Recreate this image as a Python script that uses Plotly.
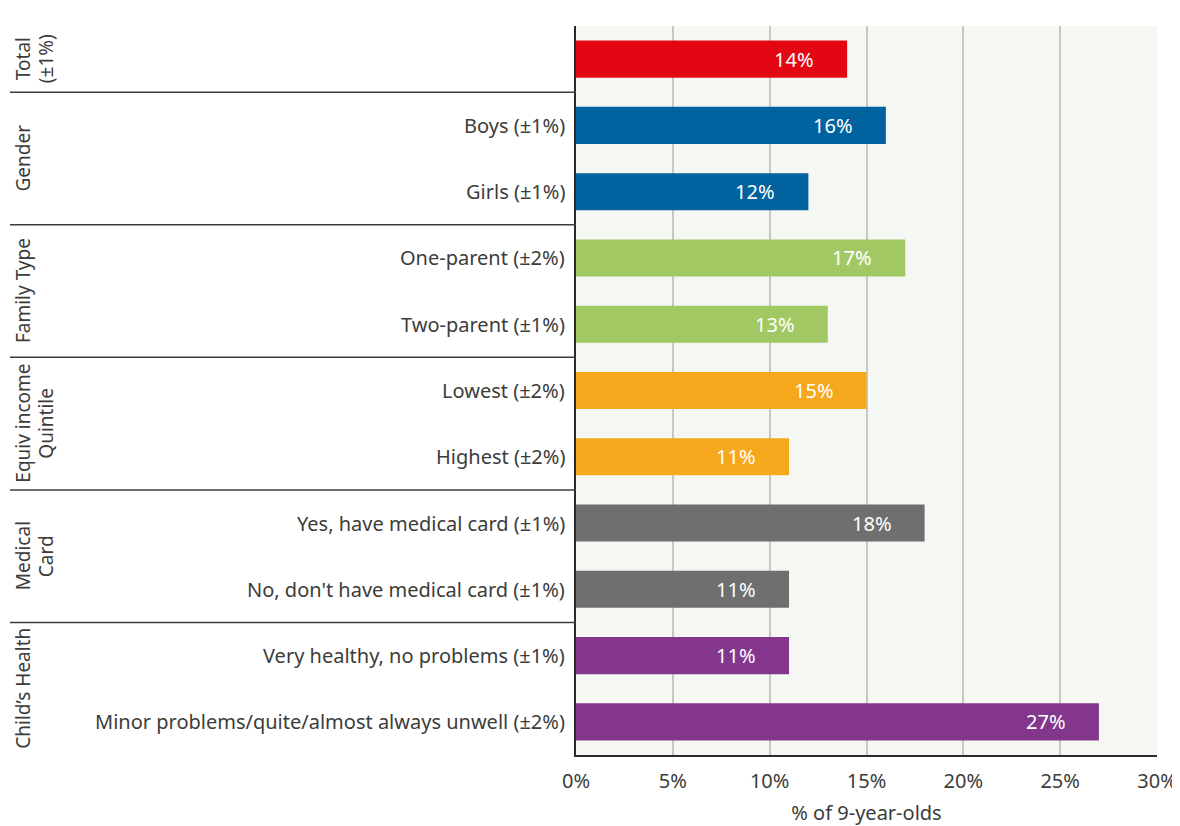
import plotly.graph_objects as go

# --- Data ---
categories = [
    "",
    "Boys (±1%)",
    "Girls (±1%)",
    "One-parent (±2%)",
    "Two-parent (±1%)",
    "Lowest (±2%)",
    "Highest (±2%)",
    "Yes, have medical card (±1%)",
    "No, don't have medical card (±1%)",
    "Very healthy, no problems (±1%)",
    "Minor problems/quite/almost always unwell (±2%)",
]
values = [14, 16, 12, 17, 13, 15, 11, 18, 11, 11, 27]
bar_colors = [
    "#e30613",
    "#00629e", "#00629e",
    "#a2c864", "#a2c864",
    "#f5a81c", "#f5a81c",
    "#706f6f", "#706f6f",
    "#83368b", "#83368b",
]
groups = [
    (["Total", "(±1%)"], 0, 0),
    (["Gender"], 1, 2),
    (["Family Type"], 3, 4),
    (["Equiv income", "Quintile"], 5, 6),
    (["Medical", "Card"], 7, 8),
    (["Child’s Health"], 9, 10),
]
tick_vals = [0, 5, 10, 15, 20, 25, 30]
tick_text = ["0%", "5%", "10%", "15%", "20%", "25%", "30%"]

FONT = "Noto Sans, sans-serif"
FS = 20
TEXT = "#3c3c3b"
# page body has an 8px margin, so the figure is a bit smaller than the window
W, H = 1172, 818
ML, MR, MT, MB = 568, 23, 18, 71
PW = W - ML - MR

ypos = list(range(len(categories)))

fig = go.Figure(
    go.Bar(
        x=values,
        y=ypos,
        orientation="h",
        marker=dict(color=bar_colors, line=dict(width=0)),
        width=0.56,
        hoverinfo="x+y",
    )
)

# value labels inside the bar ends
for i, v in enumerate(values):
    fig.add_annotation(
        x=v, y=i, text=f"{v}%", showarrow=False,
        xanchor="right", xshift=-31,
        font=dict(family=FONT, size=FS, color="white"),
    )

# row labels
for i, c in enumerate(categories):
    if c:
        fig.add_annotation(
            x=0, y=i, xref="x", text=c, showarrow=False,
            xanchor="right", xshift=-9,
            font=dict(family=FONT, size=FS, color=TEXT),
        )

def px_to_paper(px):
    return (px - ML) / PW

# group labels (one annotation per line, rotated) + separators
line_x = [15, 38]
for lines, a, b in groups:
    for k, txt in enumerate(lines):
        fig.add_annotation(
            x=px_to_paper(line_x[k]), xref="paper", y=(a + b) / 2, text=txt,
            showarrow=False, textangle=-90, xanchor="center", yanchor="middle",
            font=dict(family=FONT, size=19, color=TEXT),
        )
    if b < len(categories) - 1:
        fig.add_shape(
            type="line", xref="paper", yref="y",
            x0=px_to_paper(2), x1=0, y0=b + 0.5, y1=b + 0.5,
            line=dict(color="#3c3c3b", width=1.5),
        )

fig.update_layout(
    width=W, height=H,
    margin=dict(l=ML, r=MR, t=MT, b=MB),
    plot_bgcolor="#f5f8f2",
    paper_bgcolor="white",
    showlegend=False,
    font=dict(family=FONT, size=FS, color=TEXT),
    xaxis=dict(
        range=[0, 30],
        tickvals=tick_vals, ticktext=tick_text,
        showgrid=True, gridcolor="#c6c6c6", gridwidth=1.5,
        zeroline=False,
        showline=True, linecolor="#2b2a29", linewidth=2,
        ticks="", ticklen=0,
        ticklabelstandoff=7,
        automargin=False,
        title=dict(text="% of 9-year-olds", standoff=16,
                   font=dict(family=FONT, size=FS, color=TEXT)),
        tickfont=dict(family=FONT, size=FS, color=TEXT),
        fixedrange=True,
    ),
    yaxis=dict(
        range=[len(categories) - 0.5, -0.5],
        showticklabels=False, showgrid=False, zeroline=False,
        showline=True, linecolor="#2b2a29", linewidth=2,
        automargin=False,
        fixedrange=True,
    ),
)

fig.write_html("out.html")
